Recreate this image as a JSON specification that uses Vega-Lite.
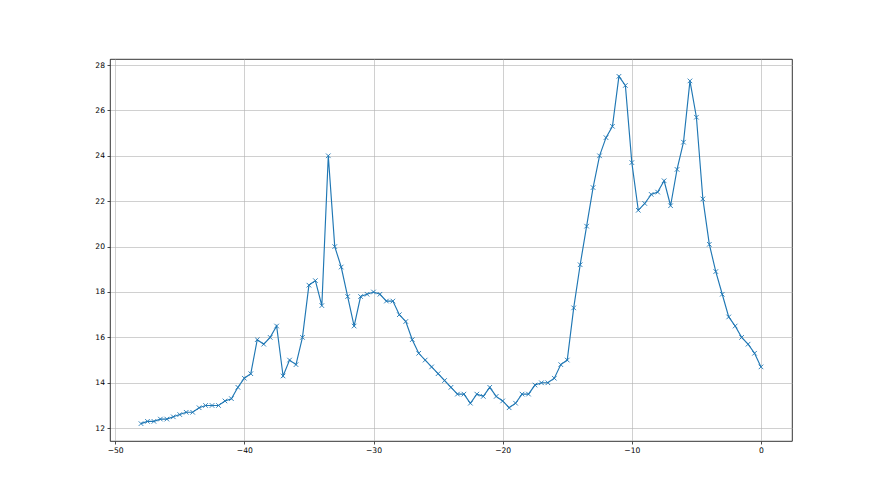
{
  "$schema": "https://vega.github.io/schema/vega-lite/v6.json",
  "autosize": "none",
  "width": 682,
  "height": 382,
  "padding": {"left": 110, "top": 59, "right": 88, "bottom": 54},
  "background": "white",
  "config": {
    "view": {"stroke": "black", "strokeWidth": 0.8},
    "axis": {
      "domain": false,
      "grid": true,
      "gridColor": "#b0b0b0",
      "gridWidth": 0.6,
      "tickColor": "black",
      "tickSize": 3,
      "tickWidth": 0.7,
      "labelFont": "DejaVu Sans",
      "labelFontSize": 7.6,
      "labelColor": "black",
      "labelPadding": 2.5,
      "title": null
    }
  },
  "data": {
    "values": [
      {"x": -48, "y": 12.2}, {"x": -47.5, "y": 12.3}, {"x": -47, "y": 12.3}, {"x": -46.5, "y": 12.4},
      {"x": -46, "y": 12.4}, {"x": -45.5, "y": 12.5}, {"x": -45, "y": 12.6}, {"x": -44.5, "y": 12.7},
      {"x": -44, "y": 12.7}, {"x": -43.5, "y": 12.9}, {"x": -43, "y": 13.0}, {"x": -42.5, "y": 13.0},
      {"x": -42, "y": 13.0}, {"x": -41.5, "y": 13.2}, {"x": -41, "y": 13.3}, {"x": -40.5, "y": 13.8},
      {"x": -40, "y": 14.2}, {"x": -39.5, "y": 14.4}, {"x": -39, "y": 15.9}, {"x": -38.5, "y": 15.7},
      {"x": -38, "y": 16.0}, {"x": -37.5, "y": 16.5}, {"x": -37, "y": 14.3}, {"x": -36.5, "y": 15.0},
      {"x": -36, "y": 14.8}, {"x": -35.5, "y": 16.0}, {"x": -35, "y": 18.3}, {"x": -34.5, "y": 18.5},
      {"x": -34, "y": 17.4}, {"x": -33.5, "y": 24.0}, {"x": -33, "y": 20.0}, {"x": -32.5, "y": 19.1},
      {"x": -32, "y": 17.8}, {"x": -31.5, "y": 16.5}, {"x": -31, "y": 17.8}, {"x": -30.5, "y": 17.9},
      {"x": -30, "y": 18.0}, {"x": -29.5, "y": 17.9}, {"x": -29, "y": 17.6}, {"x": -28.5, "y": 17.6},
      {"x": -28, "y": 17.0}, {"x": -27.5, "y": 16.7}, {"x": -27, "y": 15.9}, {"x": -26.5, "y": 15.3},
      {"x": -26, "y": 15.0}, {"x": -25.5, "y": 14.7}, {"x": -25, "y": 14.4}, {"x": -24.5, "y": 14.1},
      {"x": -24, "y": 13.8}, {"x": -23.5, "y": 13.5}, {"x": -23, "y": 13.5}, {"x": -22.5, "y": 13.1},
      {"x": -22, "y": 13.5}, {"x": -21.5, "y": 13.4}, {"x": -21, "y": 13.8}, {"x": -20.5, "y": 13.4},
      {"x": -20, "y": 13.2}, {"x": -19.5, "y": 12.9}, {"x": -19, "y": 13.1}, {"x": -18.5, "y": 13.5},
      {"x": -18, "y": 13.5}, {"x": -17.5, "y": 13.9}, {"x": -17, "y": 14.0}, {"x": -16.5, "y": 14.0},
      {"x": -16, "y": 14.2}, {"x": -15.5, "y": 14.8}, {"x": -15, "y": 15.0}, {"x": -14.5, "y": 17.3},
      {"x": -14, "y": 19.2}, {"x": -13.5, "y": 20.9}, {"x": -13, "y": 22.6}, {"x": -12.5, "y": 24.0},
      {"x": -12, "y": 24.8}, {"x": -11.5, "y": 25.3}, {"x": -11, "y": 27.5}, {"x": -10.5, "y": 27.1},
      {"x": -10, "y": 23.7}, {"x": -9.5, "y": 21.6}, {"x": -9, "y": 21.9}, {"x": -8.5, "y": 22.3},
      {"x": -8, "y": 22.4}, {"x": -7.5, "y": 22.9}, {"x": -7, "y": 21.8}, {"x": -6.5, "y": 23.4},
      {"x": -6, "y": 24.6}, {"x": -5.5, "y": 27.3}, {"x": -5, "y": 25.7}, {"x": -4.5, "y": 22.1},
      {"x": -4, "y": 20.1}, {"x": -3.5, "y": 18.9}, {"x": -3, "y": 17.9}, {"x": -2.5, "y": 16.9},
      {"x": -2, "y": 16.5}, {"x": -1.5, "y": 16.0}, {"x": -1, "y": 15.7}, {"x": -0.5, "y": 15.3},
      {"x": 0, "y": 14.7}
    ]
  },
  "encoding": {
    "x": {
      "field": "x", "type": "quantitative",
      "scale": {"domain": [-50.4, 2.4], "nice": false, "zero": false},
      "axis": {"values": [-50, -40, -30, -20, -10, 0]}
    },
    "y": {
      "field": "y", "type": "quantitative",
      "scale": {"domain": [11.435, 28.265], "nice": false, "zero": false},
      "axis": {"values": [12, 14, 16, 18, 20, 22, 24, 26, 28]}
    }
  },
  "layer": [
    {"mark": {"type": "line", "color": "#1f77b4", "strokeWidth": 1.15, "clip": true}},
    {"mark": {"type": "point", "shape": "M-1,-1L1,1M-1,1L1,-1", "filled": false, "color": "#1f77b4", "strokeWidth": 0.9, "size": 21, "opacity": 1, "clip": true}}
  ]
}
